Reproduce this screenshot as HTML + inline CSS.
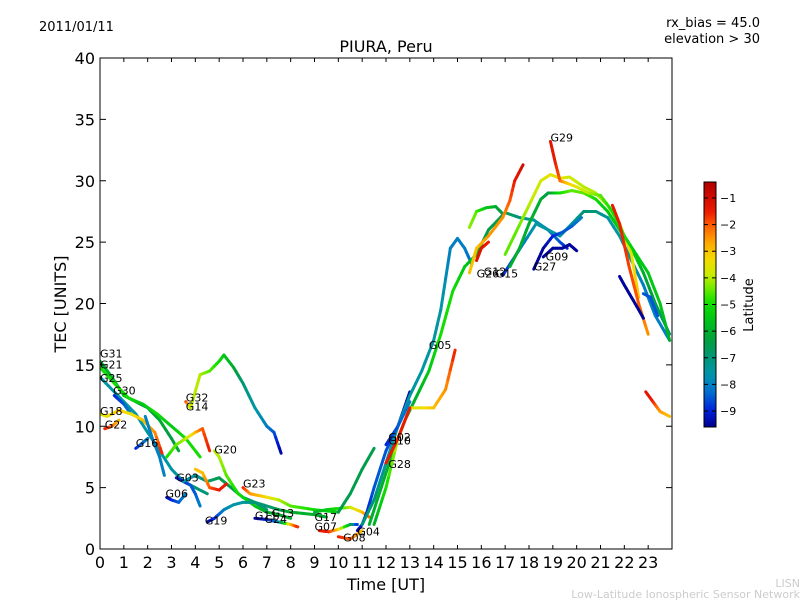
<!DOCTYPE html>
<html><head><meta charset="utf-8"><style>
body{margin:0;background:#fff;width:800px;height:600px;overflow:hidden;font-family:"Liberation Sans","DejaVu Sans",sans-serif}
svg text{font-family:"DejaVu Sans","Liberation Sans",sans-serif}
</style></head><body>
<svg id="c" width="800" height="600"></svg>
<script>
// ---- data ----
const xTicks=[0,1,2,3,4,5,6,7,8,9,10,11,12,13,14,15,16,17,18,19,20,21,22,23];
const yTicks=[0,5,10,15,20,25,30,35,40];
const cbTicks=[-1,-2,-3,-4,-5,-6,-7,-8,-9];
const trackT=[
[0,0.5,1,1.5,2,2.5,3,3.3],
[0,0.6,1.2,1.8,2.4,3,3.6,4.2],
[0,0.5,1,1.5,2,2.5,3,3.5,4,4.5],
[0.6,1,1.3],
[0,0.3,0.8,1.3,1.8,2.3,2.6],
[0.2,0.5,0.8],
[1.5,1.7,2],
[1.9,2.2,2.5,2.7],
[3.6,3.8,4.2,4.6,5,5.2,5.6,6,6.5,7,7.3,7.6],
[2.8,3.2,3.6,4,4.3,4.6],
[3.2,3.5,3.8,4,4.2],
[3.5,4,4.5,5,5.5,6,6.5,7],
[2.8,3,3.3,3.6],
[4.8,5,5.3,5.8,6.5,7,7.5,8],
[4.5,4.8,5.2,5.6,6,6.5,7,7.5,8,9,9.5],
[4,4.3,4.6,5,5.3],
[6,6.3,6.8,7.5,8,9,10],
[6.5,7,7.5,8,8.3],
[9,9.5,10,10.5,11,11.3],
[9.2,9.6,10,10.5,10.8],
[10,10.5,11],
[10.8,11,11.2,11.5,12,12.5,13],
[10,10.5,11,11.5],
[11,11.5,12,12.5,13,13.5,14,14.3,14.7,15,15.3,15.6],
[11.3,11.8,12.3,12.8,13.3,13.8,14.3,14.8,15.3,15.8,16.3,17,17.6,18.2,18.8,19.3,19.6],
[11.5,12,12.5,13,13.5,14,14.5,14.9],
[12,12.5,13],
[12,12.5,13],
[15.5,15.8,16.2,16.6,16.9],
[15.5,15.8,16.3,16.9,17.2,17.4,17.75],
[15.8,16,16.3],
[16.9,17.3,17.8,18.3,18.8,19.3,19.8,20.3,20.8,21.3,21.8,22.3,22.8,23.3,23.9],
[18.2,18.6,19,19.4,19.8,20.2],
[18.6,19,19.4,19.7,20],
[17.2,17.6,18,18.5,18.8,19.3,19.8,20.3,20.8,21.3,21.8,22.3,22.8,23.3,23.9],
[17,17.5,18,18.5,18.9,19.3,19.7,20.3,20.8,21.3,21.8,22.3,22.6],
[18.9,19.1,19.3,19.6,20,20.5,21,21.5,22,22.5,23,23.5,23.9],
[21.5,21.8,22.2,22.6,23],
[21.8,22,22.3,22.6,22.8],
[22.8,23.1,23.4],
[22.9,23.2,23.5,23.9]];
const trackTec=[
[15.3,14,12.5,12,11.5,10.5,9,8],
[14.8,13.5,12.3,11.8,11,10,9,7.5],
[14,13,12,11,9.5,8,6.5,5.5,5,4.5],
[12.5,11.8,11],
[11,10.8,11.3,11,10.5,9.5,7.8],
[9.8,10,10.5],
[8.2,8.5,9],
[10.8,9,7.5,6],
[12,11.5,14.2,14.5,15.3,15.8,14.8,13.5,11.5,10,9.5,7.8],
[7.5,8.5,9,9.5,9.8,8],
[5.8,5.5,5.2,4.5,3.5],
[5.5,6,5.5,5.8,5,4.2,3.8,3.2],
[4.2,4,3.8,4.5],
[8,7.5,6,4.5,3.5,3,2.8,2.5],
[2.2,2.5,3.2,3.6,3.8,3.8,3.5,3.2,3,2.8,2.6],
[6.5,6.2,5,4.8,5.3],
[5,4.5,4.3,4,3.5,3.2,3],
[2.5,2.4,2.2,2,1.8],
[3,3.2,3.3,3.4,3,2.6],
[1.5,1.4,1.6,2,2],
[1,0.8,1.5],
[1.5,2,3,5,8,10,12.8],
[3,4.5,6.5,8.2],
[2,4,7,10,12.5,14.5,17,19.5,24.5,25.3,24.5,23.2],
[2,5,8,10.5,12.5,14.5,17.5,21,23,24,26,27.4,27,26.8,26,25,24.5],
[2,5,9,11.5,11.5,11.5,13,16.2],
[7,9,11.5],
[8.5,10,12],
[26.2,27.5,27.8,27.9,27.3],
[22.5,24.5,25.5,27,28.4,30,31.3],
[23.5,24.5,25],
[22.3,23.5,25,26.5,26,25.5,26.5,27.5,27.5,27,25.5,23.5,21.5,19,17],
[22.8,24.5,25.5,25.8,26.3,27],
[23.8,24.5,24.5,24.8,24.3],
[23,24.5,26.5,28.5,29,29,29.2,29,28.5,27.5,26,24.5,22.5,20,17.5],
[24,26,28,30,30.5,30.2,30.3,29.5,29,28,26.5,24,20.5],
[33.2,31.5,30,29.8,29.5,29,28.8,27.5,25.5,24,22.5,20,17],
[28,26.5,23,20,17.5],
[22.2,21.5,20.5,19.5,18.8],
[20.8,20.5,19],
[12.8,12,11.2,10.8]];
const trackLat=[
[-6,-6,-5.5,-6,-6.5,-6,-6.5,-6],
[-5,-5,-5,-5.5,-5,-5.5,-5,-5],
[-7.5,-7.5,-7.5,-7.5,-7.5,-7.5,-7.5,-7.5,-7,-7],
[-9,-8.5,-8],
[-3.8,-3.5,-3,-3.5,-3,-2.5,-1.5],
[-1.5,-2,-3],
[-9,-8.5,-8],
[-8,-8,-8,-8],
[-1.5,-4,-4,-4.5,-5,-5.5,-6,-7,-7.5,-8,-8.5,-9.5],
[-5,-4.5,-4,-3,-2,-1.5],
[-9,-9,-8.5,-8.5,-8],
[-7.5,-7.5,-7,-6.5,-6.5,-6.5,-7,-7],
[-9.5,-9,-8.5,-8],
[-4,-4,-4.5,-5,-5.5,-6,-6,-6],
[-9.5,-9,-8,-7.5,-7.5,-7,-7,-6.5,-6,-6,-6],
[-3,-3,-2,-1.5,-1.5],
[-1.5,-2.5,-3,-4,-4.5,-5,-5.5],
[-9.5,-9,-8,-3,-1.5],
[-6,-5.5,-5,-4,-3,-2],
[-1.5,-1.5,-3,-6,-9],
[-1.5,-2,-3],
[-9.5,-9,-9,-8.5,-8.5,-9,-9.5],
[-6.5,-6.5,-6.5,-6.5],
[-7,-7,-7.5,-7.5,-7.5,-7.5,-7.5,-7.5,-8,-8,-8,-8.5],
[-6,-6,-6,-6,-6,-5.5,-5,-5,-5.5,-6,-6.5,-6.5,-7,-7.5,-8,-8.5,-9],
[-6,-5,-4,-3.5,-3.5,-3,-2.5,-1.5],
[-1.5,-1.5,-1.5],
[-9,-8.5,-8],
[-4.2,-4.5,-5.5,-6,-6.5],
[-3,-3,-2.5,-2.5,-2,-1.5,-1],
[-1.3,-1.3,-1.5],
[-9,-8.5,-8,-7.5,-7.5,-7.5,-7.5,-7,-7,-7.5,-7.5,-7.5,-8,-8,-8],
[-9.5,-9.5,-9,-8.5,-8.5,-8],
[-9.5,-9.5,-9.5,-9.5,-9.5],
[-6,-6,-6,-6,-6.5,-5,-4.5,-4.5,-5,-5.5,-5.5,-5,-6,-6.5,-7],
[-4.5,-4.5,-4,-3.8,-3.5,-3.5,-3.8,-4,-4,-4,-4.2,-3.5,-3],
[-1.3,-1.5,-2,-3,-3.5,-4,-4.5,-5,-5,-5.5,-5.5,-5.5,-6],
[-1.5,-1.5,-1.8,-2,-2.5],
[-9.5,-9.5,-9.5,-9.5,-9.5],
[-8.5,-8.5,-8.5],
[-1.3,-1.5,-2.5,-3]];
const labelNames=["G31","G21","G25","G30","G18","G22","G16","G32","G14","G20","G03","G06","G23","G19","G11","G13","G24","G17","G07","G08","G04","G02","G10","G28","G05","G26","G12","G15","G27","G09","G29"];
const labelT=[0,0,0,0.55,0,0.2,1.5,3.6,3.6,4.8,3.2,2.75,6,4.4,6.5,7.2,6.9,9,9,10.2,10.8,12.1,12.1,12.1,13.8,15.8,16.1,16.6,18.2,18.7,18.9];
const labelTec=[15.6,14.7,13.6,12.6,10.9,9.8,8.3,12,11.3,7.8,5.5,4.2,5,2,2.4,2.6,2.1,2.3,1.5,0.6,1.1,8.8,8.5,6.6,16.3,22.1,22.3,22.1,22.7,23.5,33.2];

// ---- layout ----
const NS="http://www.w3.org/2000/svg";
const svg=document.getElementById('c');
const X0=100,X1=672,Y0=549,Y1=58;
const xs=t=>X0+(t/24)*(X1-X0);
const ys=v=>Y0-(v/40)*(Y0-Y1);
const LMIN=-9.6,LMAX=-0.4,CB_TOP=182,CB_BOT=427;
const cbY=l=>CB_BOT-(l-LMIN)/(LMAX-LMIN)*(CB_BOT-CB_TOP);
// colormap stops (latitude -> rgb)
const cmapL=[-9.6,-9,-8.3,-7.6,-7,-6.3,-5.5,-4.9,-4.4,-3.9,-3.3,-2.6,-2,-1.5,-0.4];
const cmapC=[[0,0,140],[0,30,220],[0,110,210],[0,150,170],[0,150,120],[0,160,60],[0,200,20],[20,225,0],[110,235,0],[200,235,0],[245,220,0],[255,160,0],[255,90,0],[235,25,0],[175,0,0]];
function latColor(l){
 if(l<=cmapL[0])return `rgb(${cmapC[0]})`;
 for(let i=0;i<cmapL.length-1;i++){
  if(l<=cmapL[i+1]){const f=(l-cmapL[i])/(cmapL[i+1]-cmapL[i]);
   const c=cmapC[i].map((v,k)=>Math.round(v+(cmapC[i+1][k]-v)*f));return `rgb(${c})`;}
 }
 return `rgb(${cmapC[cmapC.length-1]})`;
}
function el(tag,attrs,parent){const e=document.createElementNS(NS,tag);for(const k in attrs)e.setAttribute(k,attrs[k]);(parent||svg).appendChild(e);return e;}
function txt(s,x,y,size,anchor,parent,fill){const e=el('text',{x:x,y:y,'font-size':size,'text-anchor':anchor||'start',fill:fill||'#000'},parent);e.textContent=s;return e;}

let e;
e=txt('2011/01/11',39,31,13);
e=txt('rx_bias = 45.0',760,27,13,'end');
e=txt('elevation > 30',760,43,13,'end');
e=txt('PIURA, Peru',386,52,16,'middle');
e=txt('LISN',800,587,11,'end',null,'#ccc');
e=txt('Low-Latitude Ionospheric Sensor Network',800,598,11,'end',null,'#ccc');

const defs=el('defs',{});
const clip=el('clipPath',{id:'pc'},defs);el('rect',{x:X0,y:Y1,width:X1-X0,height:Y0-Y1},clip);
const gT=el('g',{'clip-path':'url(#pc)'});


for(let i=0;i<trackT.length;i++){
 const g=el('g',{},gT);
 
 
 const t=trackT[i],v=trackTec[i],l=trackLat[i];
 for(let j=0;j<t.length-1;j++){
  const n=4;
  for(let k=0;k<n;k++){
   const a=k/n,b=(k+1)/n;
   const xa=xs(t[j]+(t[j+1]-t[j])*a),ya=ys(v[j]+(v[j+1]-v[j])*a);
   const xb=xs(t[j]+(t[j+1]-t[j])*b),yb=ys(v[j]+(v[j+1]-v[j])*b);
   const lc=l[j]+(l[j+1]-l[j])*(a+b)/2;
   el('line',{x1:xa,y1:ya,x2:xb,y2:yb,stroke:latColor(lc),'stroke-width':3,'stroke-linecap':'round'},g);
  }
 }
}
for(let i=0;i<labelNames.length;i++){
 const e=txt(labelNames[i],xs(labelT[i]),ys(labelTec[i]),11);
 
 
}
const ax=el('g',{});


el('rect',{x:X0,y:Y1,width:X1-X0,height:Y0-Y1,fill:'none',stroke:'#000','stroke-width':1},ax);
xTicks.forEach(t=>{const x=xs(t);
 el('line',{x1:x,y1:Y0,x2:x,y2:Y0-4,stroke:'#000'},ax);
 el('line',{x1:x,y1:Y1,x2:x,y2:Y1+4,stroke:'#000'},ax);
 const e=txt(String(t),x,568,16,'middle',ax);
 
 
});
yTicks.forEach(v=>{const y=ys(v);
 el('line',{x1:X0,y1:y,x2:X0+6,y2:y,stroke:'#000'},ax);
 el('line',{x1:X1,y1:y,x2:X1-6,y2:y,stroke:'#000'},ax);
 const e=txt(String(v),95,y+6,16,'end',ax);
 
 
});
e=txt('Time [UT]',386,590,16,'middle');
e=txt('TEC [UNITS]',0,0,16,'middle');e.setAttribute('transform','translate(66,304) rotate(-90)');


const cb=el('g',{});


const gr=el('linearGradient',{id:'jg',x1:0,y1:1,x2:0,y2:0},defs);
for(let i=0;i<=40;i++){const l=LMIN+(LMAX-LMIN)*i/40;el('stop',{offset:(i/40),'stop-color':latColor(l)},gr);}
el('rect',{x:704,y:CB_TOP,width:12,height:CB_BOT-CB_TOP,fill:'url(#jg)',stroke:'#000','stroke-width':1},cb);
cbTicks.forEach(l=>{const y=cbY(l);
 el('line',{x1:712,y1:y,x2:716,y2:y,stroke:'#000'},cb);
 el('line',{x1:704,y1:y,x2:708,y2:y,stroke:'#000'},cb);
 const e=txt('\u2212'+Math.abs(l),720,y+4,11,'start',cb);
 
 
});
e=txt('Latitude',0,0,13,'middle');e.setAttribute('transform','translate(753,305) rotate(-90)');

</script>
</body></html>
